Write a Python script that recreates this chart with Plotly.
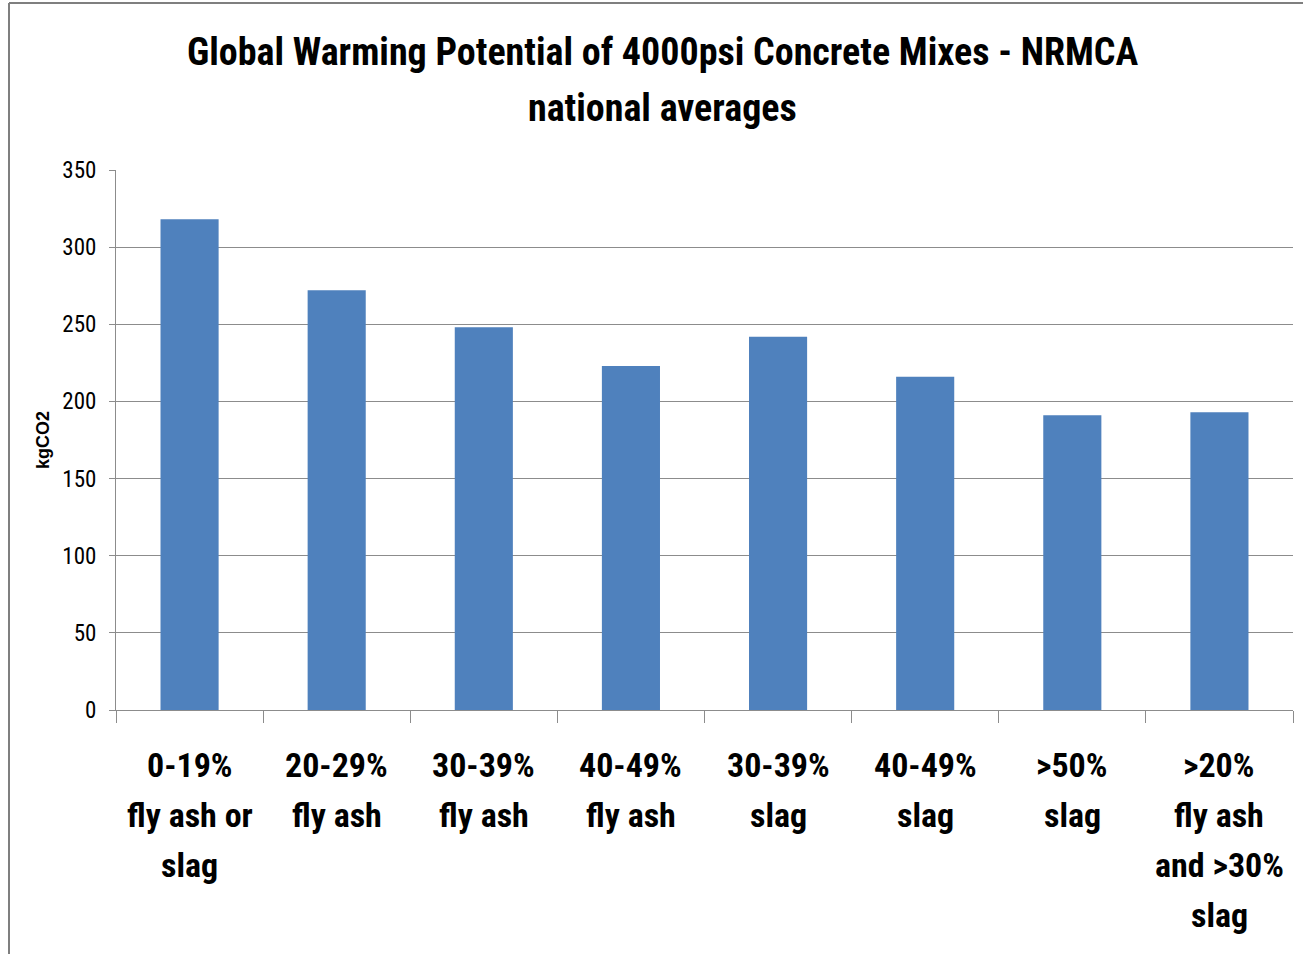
import plotly.graph_objects as go

# ---- data ----
label_lines = [
    ["0-19%", "fly ash or", "slag"],
    ["20-29%", "fly ash"],
    ["30-39%", "fly ash"],
    ["40-49%", "fly ash"],
    ["30-39%", "slag"],
    ["40-49%", "slag"],
    [">50%", "slag"],
    [">20%", "fly ash", "and >30%", "slag"],
]
categories = [" ".join(l) for l in label_lines]
values = [318, 272, 248, 223, 242, 216, 191, 193]
y_ticks = [0, 50, 100, 150, 200, 250, 300, 350]
title_line1 = "Global Warming Potential of 4000psi Concrete Mixes - NRMCA"
title_line2 = "national averages"
y_title = "kgCO2"

FONT = "Liberation Sans Narrow, Arial Narrow, Roboto Condensed, Liberation Sans, sans-serif"
BAR = "#4F81BD"
GRID = "#8C8C8C"

fig = go.Figure()
fig.add_trace(go.Bar(
    x=categories, y=values, marker=dict(color=BAR, line=dict(width=0)),
    width=0.395, hoverinfo="x+y",
))

# plot area: x 116..1293, y 170..710 px
W, H = 1303, 954
L, R, T, B = 116, 10, 170, 244
pw, ph = W - L - R, H - T - B

annotations = []
for cat, lines in zip(categories, label_lines):
    for i, line in enumerate(lines):
        annotations.append(dict(
            x=cat, xref="x", y=0, yref="paper", yshift=-55 - 50 * i,
            text=line, showarrow=False, xanchor="center", yanchor="middle",
            font=dict(family=FONT, size=34, color="#000000", weight="bold"),
        ))

def px_to_paper_x(px):
    return (px - L) / pw

def px_to_paper_y(py):
    return (H - B - py) / ph

annotations.append(dict(
    x=px_to_paper_x(662), xref="paper", y=px_to_paper_y(52), yref="paper",
    text=title_line1, showarrow=False, xanchor="center", yanchor="middle",
    font=dict(family=FONT, size=38, color="#000000", weight="bold"),
))
annotations.append(dict(
    x=px_to_paper_x(662), xref="paper", y=px_to_paper_y(108), yref="paper",
    text=title_line2, showarrow=False, xanchor="center", yanchor="middle",
    font=dict(family=FONT, size=38, color="#000000", weight="bold"),
))

shapes = [
    dict(type="line", xref="paper", yref="paper",
         x0=px_to_paper_x(9), x1=px_to_paper_x(9),
         y0=px_to_paper_y(960), y1=px_to_paper_y(3),
         line=dict(color="#7F7F7F", width=2)),
    dict(type="line", xref="paper", yref="paper",
         x0=px_to_paper_x(9), x1=px_to_paper_x(1310),
         y0=px_to_paper_y(3), y1=px_to_paper_y(3),
         line=dict(color="#7F7F7F", width=2)),
]

fig.update_layout(
    width=W, height=H,
    margin=dict(l=L, r=R, t=T, b=B, pad=0),
    paper_bgcolor="white", plot_bgcolor="white",
    showlegend=False,
    bargap=0.6,
    annotations=annotations,
    shapes=shapes,
    xaxis=dict(
        type="category", showticklabels=False,
        ticks="outside", tickson="boundaries", ticklen=12, tickcolor=GRID,
        showline=True, linecolor=GRID, linewidth=1,
        showgrid=False, zeroline=False,
    ),
    yaxis=dict(
        range=[0, 350], tickvals=y_ticks,
        ticks="outside", ticklen=6, tickcolor=GRID,
        showline=True, linecolor=GRID, linewidth=1,
        showgrid=True, gridcolor=GRID, gridwidth=1,
        zeroline=False,
        ticklabelstandoff=8,
        tickfont=dict(family=FONT, size=23, color="#000000"),
        title=dict(text=y_title, standoff=8,
                   font=dict(family="Liberation Sans, Arial, sans-serif", size=18,
                             color="#000000", weight="bold")),
    ),
)
fig.write_html("out.html", config={"displayModeBar": False},
               post_script="document.body.style.margin='0';")
